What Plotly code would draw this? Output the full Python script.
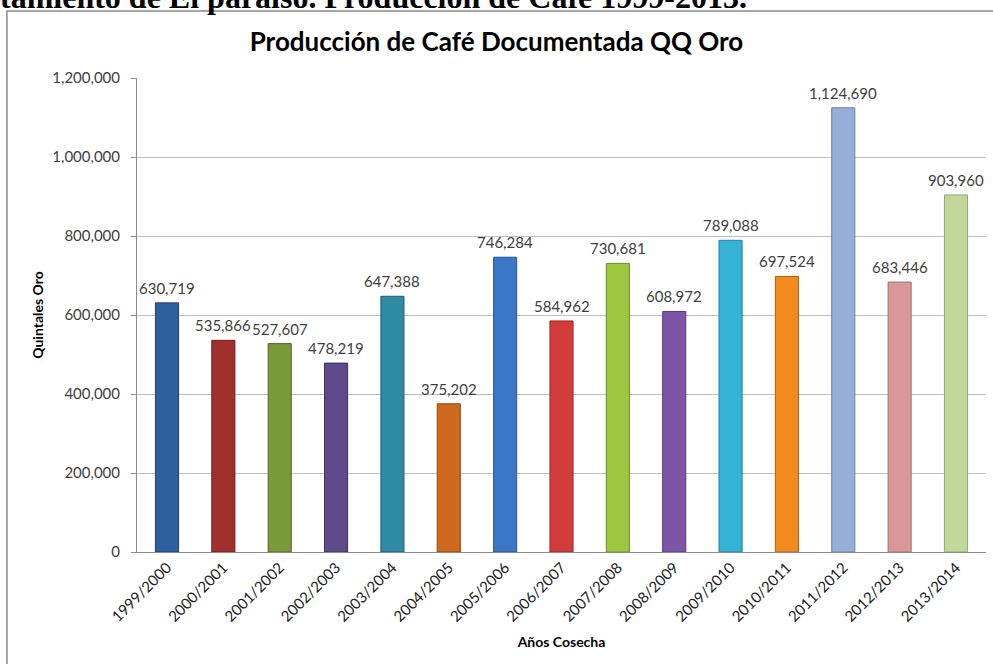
import plotly.graph_objects as go

categories = ["1999/2000", "2000/2001", "2001/2002", "2002/2003", "2003/2004",
              "2004/2005", "2005/2006", "2006/2007", "2007/2008", "2008/2009",
              "2009/2010", "2010/2011", "2011/2012", "2012/2013", "2013/2014"]
values = [630719, 535866, 527607, 478219, 647388, 375202, 746284, 584962,
          730681, 608972, 789088, 697524, 1124690, 683446, 903960]
bar_colors = ["#2F5F9E", "#A0302C", "#789A3A", "#5E4A8A", "#2F8BA3", "#CD6A1E",
              "#3A78C6", "#D23C3A", "#9CC63E", "#7C55A6", "#33B4D6", "#F28A1E",
              "#96AED8", "#D99897", "#C2D89A"]
edge_colors = ["#1F4170", "#6E1E1C", "#506826", "#3E305E", "#1E5E6E", "#8C4612",
               "#285490", "#952826", "#6C8C28", "#553A74", "#2280A0", "#B06010",
               "#6A80A8", "#A87070", "#8FA870"]
y_ticks = [0, 200000, 400000, 600000, 800000, 1000000, 1200000]

fig = go.Figure()
fig.add_trace(go.Bar(
    x=categories, y=values,
    marker=dict(color=bar_colors, line=dict(color=edge_colors, width=1)),
    width=0.41,
))

annotations = []
for c, v in zip(categories, values):
    annotations.append(dict(
        x=c, y=v, xref="x", yref="y", text=f"{v:,}", showarrow=False,
        yanchor="bottom", yshift=4,
        font=dict(family="Lato", size=15, color="#404040"),
    ))

annotations.append(dict(
    x=-0.1638, y=1.1277, xref="paper", yref="paper", xanchor="left", yanchor="bottom",
    text="<b>tamiento de El paraíso. Producción de Café 1999-2013.</b>", showarrow=False,
    font=dict(family="Liberation Serif", size=32, color="#000000"),
))

fig.update_layout(
    width=993, height=664,
    margin=dict(l=137, r=7, t=78, b=112),
    paper_bgcolor="white", plot_bgcolor="white",
    showlegend=False,
    bargap=0.59,
    title=dict(text="<b>Producción de Café Documentada QQ Oro</b>",
               x=0.5, xref="container", xanchor="center",
               y=1 - 42 / 664, yref="container", yanchor="middle",
               font=dict(family="Lato", size=26, color="#000000")),
    annotations=annotations,
    shapes=[dict(type="rect", xref="paper", yref="paper",
                 x0=-0.1532, x1=1.1, y0=-0.3, y1=1.1414,
                 line=dict(color="#8A8A8A", width=1.5), layer="below")],
    xaxis=dict(
        tickangle=-45, showgrid=False, showline=True, linecolor="#8C8C8C",
        ticks="", tickfont=dict(family="Lato", size=15, color="#202020"),
        title=dict(text="<b>Años Cosecha</b>", standoff=13,
                   font=dict(family="Lato", size=14, color="#000000")),
    ),
    yaxis=dict(
        range=[0, 1200000], tickvals=y_ticks, tickformat=",d",
        showgrid=True, gridcolor="#C0C0C0", gridwidth=1,
        showline=True, linecolor="#8C8C8C", ticks="outside", ticklen=5,
        tickcolor="#8C8C8C", ticklabelstandoff=8,
        tickfont=dict(family="Lato", size=15, color="#404040"),
        title=dict(text="<b>Quintales Oro</b>", standoff=5,
                   font=dict(family="Lato", size=14, color="#000000")),
        zeroline=False,
    ),
)

fig.write_html("out.html", config={"displayModeBar": False},
               post_script="document.body.style.margin='0';document.body.style.overflow='hidden';")
